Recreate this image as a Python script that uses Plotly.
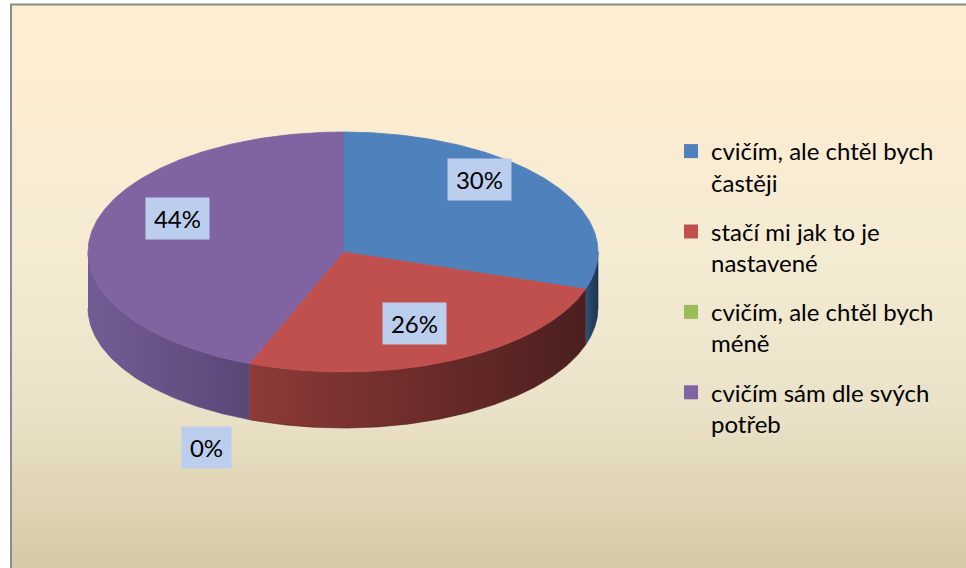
import numpy as np
import plotly.graph_objects as go

# ---------------- data ----------------
categories = [
    "cvičím, ale chtěl bych častěji",
    "stačí mi jak to je nastavené",
    "cvičím, ale chtěl bych méně",
    "cvičím sám dle svých potřeb",
]
legend_names = [
    "cvičím, ale chtěl bych<br>častěji",
    "stačí mi jak to je<br>nastavené",
    "cvičím, ale chtěl bych<br>méně",
    "cvičím sám dle svých<br>potřeb",
]
values = [30, 26, 0, 44]

# ---------------- style ----------------
W, H = 966, 568
CX, CY = 343, 252          # pie centre in pixels
A, B = 255, 120            # ellipse half axes in pixels
DEPTH = 56 / B             # wall height in y-units
FONT = "Lato"

top_colors = ["#4F81BD", "#C0504D", "#9BBB59", "#8064A2"]
wall_colors = [
    ("#2E5079", "#1C3450"),
    ("#8E3A38", "#4C1F1F"),
    ("#6F8A3F", "#4E632B"),
    ("#735C95", "#5A4777"),
]
bg_stops = [(0.0, (253, 237, 209)), (0.12, (253, 237, 210)), (0.45, (244, 235, 211)),
            (0.72, (234, 226, 200)), (1.0, (214, 200, 164))]

total = sum(values)
fracs = [v / total for v in values]
cum = np.concatenate([[0], np.cumsum(fracs)])

fig = go.Figure()

# side walls (front half of the ellipse only)
for i, (v, f0, f1) in enumerate(zip(values, cum[:-1], cum[1:])):
    if v == 0:
        continue
    t0, t1 = 90 - 360 * f1, 90 - 360 * f0
    lo, hi = max(t0, -180), min(t1, 0)
    if lo >= hi:
        continue
    ts = np.radians(np.linspace(lo, hi, 120))
    xs = np.concatenate([np.cos(ts), np.cos(ts[::-1])])
    ys = np.concatenate([np.sin(ts), np.sin(ts[::-1]) - DEPTH])
    fig.add_trace(go.Scatter(
        x=xs, y=ys, mode="lines", fill="toself",
        line=dict(width=0.6, color=wall_colors[i][1]),
        fillgradient=dict(type="horizontal",
                          colorscale=[[0, wall_colors[i][0]], [1, wall_colors[i][1]]]),
        hoverinfo="skip", showlegend=False,
    ))

# top faces
for i, (v, f0, f1) in enumerate(zip(values, cum[:-1], cum[1:])):
    if v == 0:
        continue
    ts = np.radians(np.linspace(90 - 360 * f0, 90 - 360 * f1, 200))
    xs = np.concatenate([[0], np.cos(ts), [0]])
    ys = np.concatenate([[0], np.sin(ts), [0]])
    fig.add_trace(go.Scatter(
        x=xs, y=ys, mode="lines", fill="toself", fillcolor=top_colors[i],
        line=dict(width=0.8, color=top_colors[i]),
        name=categories[i], hovertemplate=f"{categories[i]}: {v}<extra></extra>",
        showlegend=False,
    ))

# legend entries
for i, name in enumerate(legend_names):
    fig.add_trace(go.Scatter(
        x=[None], y=[None], mode="markers", name=name,
        marker=dict(symbol="square", size=14, color=top_colors[i]),
        legendgroup=f"g{i}", showlegend=True,
    ))

# percentage labels
annotations = []
for i, (v, f0, f1) in enumerate(zip(values, cum[:-1], cum[1:])):
    tm = np.radians(90 - 360 * (f0 + f1) / 2)
    if v == 0:
        lx, ly = 1.45 * np.cos(tm), 1.25 * np.sin(tm) - DEPTH
    else:
        lx, ly = 0.66 * np.cos(tm), 0.8 * np.sin(tm) + 0.13
    txt = f"{round(100 * v / total)}%"
    annotations.append(dict(
        x=lx, y=ly, xref="x", yref="y", text=txt, showarrow=False,
        font=dict(family=FONT, size=24, color="#000000"),
        bgcolor="#BCCEEE", borderpad=6, width=14 * len(txt) + 9, height=29,
    ))

# background gradient bands and frame
shapes = []
N = 90
x0p, y0p = 12 / W, 1 - 5 / H
for k in range(N):
    a, b = k / N, (k + 1) / N
    m = (a + b) / 2
    for (s0, c0), (s1, c1) in zip(bg_stops[:-1], bg_stops[1:]):
        if s0 <= m <= s1:
            r = (m - s0) / (s1 - s0)
            col = tuple(round(c0[j] + (c1[j] - c0[j]) * r) for j in range(3))
            break
    shapes.append(dict(
        type="rect", xref="paper", yref="paper", layer="below",
        x0=x0p, x1=1.0, y0=y0p - b * y0p - 0.002, y1=y0p - a * y0p,
        fillcolor=f"rgb{col}", line=dict(width=0),
    ))
shapes.append(dict(type="rect", xref="paper", yref="paper", layer="above",
                   x0=11 / W, x1=1.02, y0=-0.02, y1=1 - 4.5 / H,
                   line=dict(color="#8C8C8C", width=2), fillcolor="rgba(0,0,0,0)"))

fig.update_layout(
    width=W, height=H, autosize=False,
    margin=dict(l=0, r=0, t=0, b=0),
    paper_bgcolor="white", plot_bgcolor="rgba(0,0,0,0)",
    xaxis=dict(range=[(0 - CX) / A, (W - CX) / A], visible=False, fixedrange=True),
    yaxis=dict(range=[(CY - H) / B, CY / B], visible=False, fixedrange=True),
    shapes=shapes, annotations=annotations,
    legend=dict(x=671 / W, y=1 - 129 / H, xanchor="left", yanchor="top",
                bgcolor="rgba(0,0,0,0)", valign="top", tracegroupgap=15,
                font=dict(family=FONT, size=24, color="#000000")),
    font=dict(family=FONT),
    hovermode="closest",
)

fig.write_html(
    "out.html",
    config={"displayModeBar": False},
    post_script="document.body.style.margin='0px';document.body.style.overflow='hidden';",
)
